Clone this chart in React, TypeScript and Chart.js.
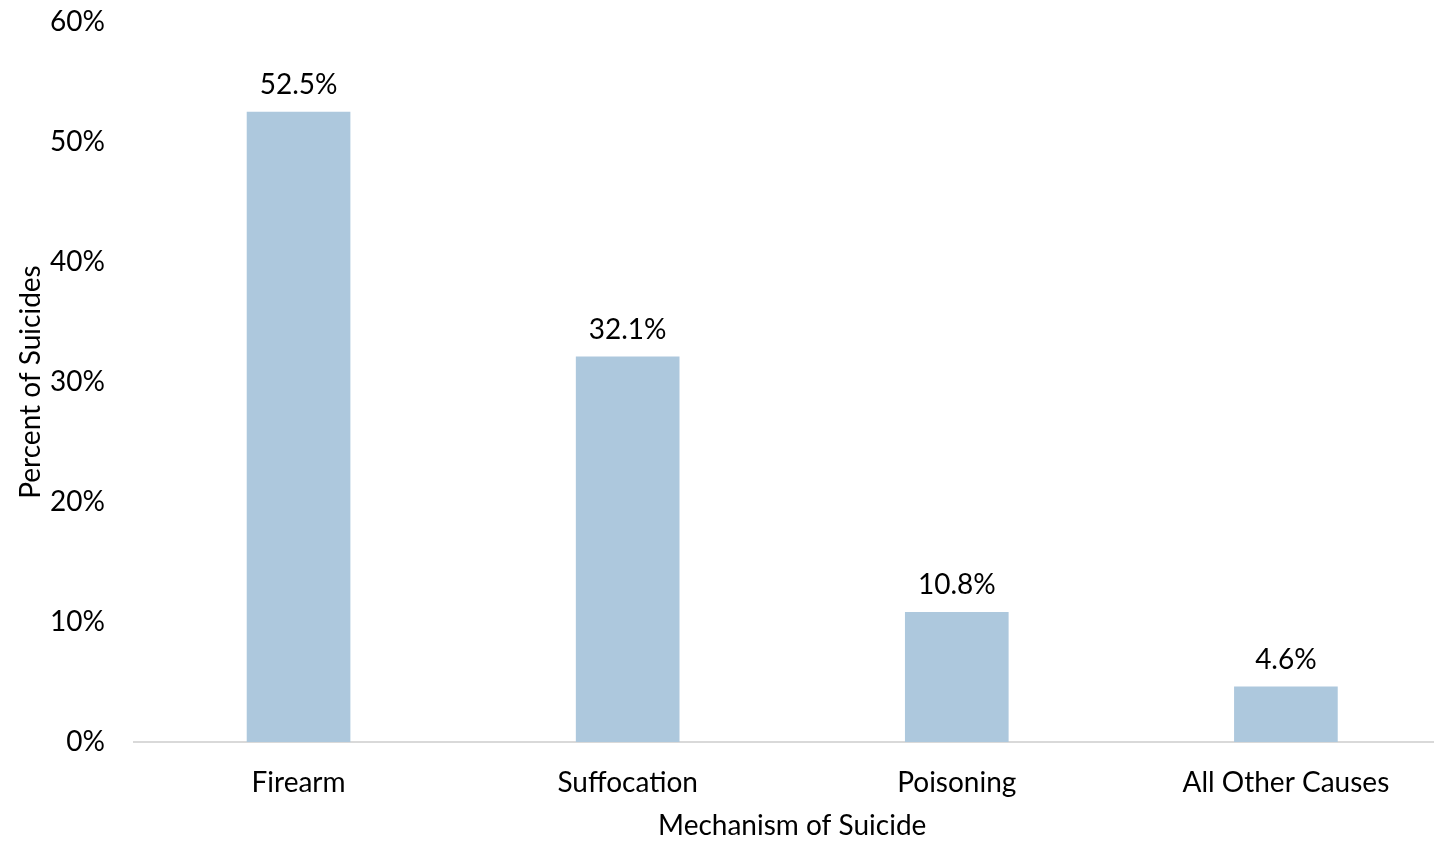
import React, { useEffect, useRef } from "react";
import { Chart, registerables } from "chart.js";

Chart.register(...registerables);

const categories = ["Firearm", "Suffocation", "Poisoning", "All Other Causes"];
const percentValues = [52.5, 32.1, 10.8, 4.6];
const valueLabels = ["52.5%", "32.1%", "10.8%", "4.6%"];
const yTickValues = [0, 10, 20, 30, 40, 50, 60];
const xTitle = "Mechanism of Suicide";
const yTitle = "Percent of Suicides";

const FONT = "Lato, 'Open Sans', sans-serif";
const FONT_SIZE = 28;

const barLabelPlugin = {
  id: "barLabels",
  afterDatasetsDraw(chart: any) {
    const ctx = chart.ctx;
    const meta = chart.getDatasetMeta(0);
    ctx.save();
    ctx.font = `${FONT_SIZE}px ${FONT}`;
    ctx.fillStyle = "#000000";
    ctx.textAlign = "center";
    ctx.textBaseline = "middle";
    meta.data.forEach((el: any, i: number) => {
      ctx.fillText(valueLabels[i], el.x, el.y - 27);
    });
    // x-axis title centred on the full (category) plot width
    const xs = chart.scales.x;
    const left = xs.getPixelForValue(-0.5);
    const right = xs.getPixelForValue(categories.length - 0.5);
    ctx.fillText(xTitle, (left + right) / 2, xs.bottom - 16);
    ctx.restore();
  },
};

export default function App() {
  const canvasRef = useRef<HTMLCanvasElement | null>(null);

  useEffect(() => {
    if (!canvasRef.current) return;
    const chart = new Chart(canvasRef.current, {
      type: "bar",
      data: {
        labels: categories,
        datasets: [
          {
            data: percentValues.map((v, i) => ({ x: i, y: v })),
            backgroundColor: "#adc8dd",
            borderWidth: 0,
            barThickness: 103,
          },
        ],
      },
      options: {
        animation: false,
        responsive: false,
        maintainAspectRatio: false,
        layout: { padding: { left: 0, right: 0, top: 22, bottom: 0 } },
        plugins: {
          legend: { display: false },
          tooltip: { enabled: false },
        },
        scales: {
          x: {
            type: "linear",
            min: -0.5,
            max: 3.45,
            offset: false,
            grid: { display: false, drawTicks: false },
            border: { display: true, color: "#d9d9d9", width: 2 },
            afterBuildTicks(scale: any) {
              scale.ticks = categories.map((_, i) => ({ value: i }));
            },
            ticks: {
              color: "#000000",
              font: { family: FONT, size: FONT_SIZE },
              padding: 24,
              maxRotation: 0,
              autoSkip: false,
              callback: (v: any) => categories[Math.round(Number(v))] ?? "",
            },
            title: { display: false },
            afterFit(scale: any) {
              scale.height = 100;
              scale.paddingLeft = 0;
              scale.paddingRight = 0;
            },
          },
          y: {
            min: 0,
            max: 60,
            grid: { display: false, drawTicks: false },
            border: { display: false },
            afterBuildTicks(scale: any) {
              scale.ticks = yTickValues.map((v) => ({ value: v }));
            },
            ticks: {
              color: "#000000",
              font: { family: FONT, size: FONT_SIZE },
              padding: 29,
              callback: (v: any) => `${v}%`,
            },
            title: {
              display: true,
              text: yTitle,
              color: "#000000",
              font: { family: FONT, size: FONT_SIZE },
              padding: { top: 14, bottom: 0 },
            },
            afterFit(scale: any) {
              scale.width = 134;
              scale.paddingTop = 0;
              scale.paddingBottom = 0;
            },
          },
        },
      },
      plugins: [barLabelPlugin],
    });
    return () => chart.destroy();
  }, []);

  return (
    <div style={{ position: "fixed", left: 0, top: 0, width: 1434, height: 842, background: "#ffffff" }}>
      <canvas ref={canvasRef} width={1434} height={842} style={{ display: "block" }} />
    </div>
  );
}
